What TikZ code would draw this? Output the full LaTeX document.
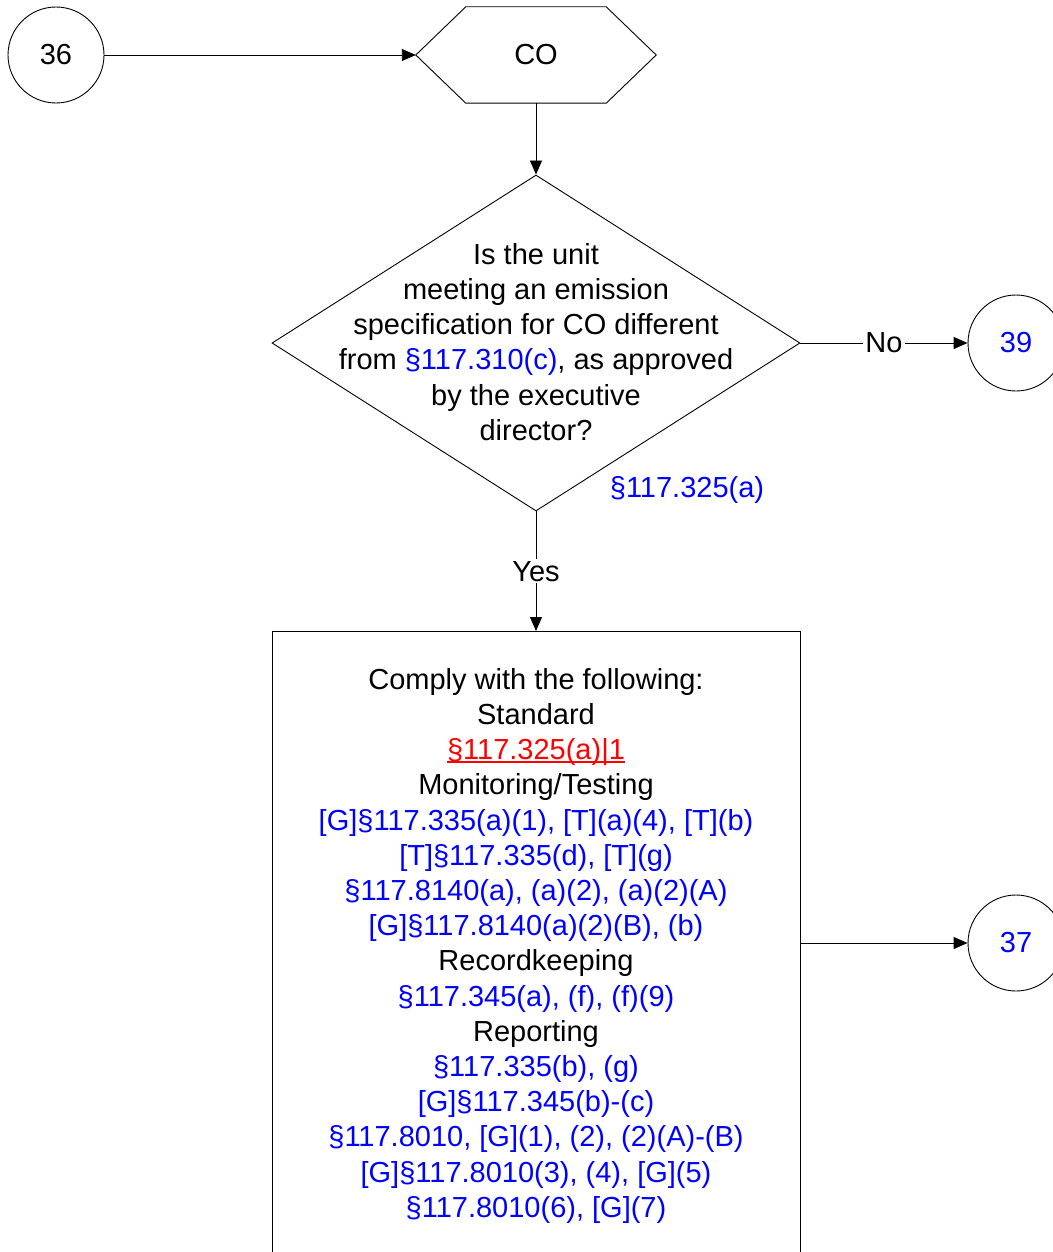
\documentclass[tikz,border=0pt]{standalone}
\usepackage{fontspec}
\setmainfont{Liberation Sans}
\usetikzlibrary{shapes.geometric,arrows.meta}
\definecolor{refblue}{RGB}{0,0,255}
\definecolor{refred}{RGB}{255,0,0}
\newcommand\myul[1]{\setbox0\hbox{#1}\rlap{\color{refred}\rule[-3pt]{\wd0}{1.4pt}}\box0}
\begin{document}
\begin{tikzpicture}[x=1pt,y=-1pt]
\tikzset{
  conn/.style={draw=black, line width=0.9pt, -{Triangle[length=14pt,width=12pt]}},
  plain/.style={draw=black, line width=0.9pt},
  lbl/.style={font=\fontsize{29}{35.2}\selectfont, align=center, inner sep=0pt},
  conncircle/.style={circle, draw, line width=0.9pt, minimum size=96pt, inner sep=0pt, font=\fontsize{29}{35}\selectfont},
}
\useasboundingbox (0,0) rectangle (1052,1252);
\fill[white] (0,0) rectangle (1052,1252);

\node[conncircle] (c36) at (56,55) {36};
\node[lbl, minimum width=240pt, minimum height=96pt] (hex) at (536,55) {CO};
\draw[plain] (hex.west) -- ([xshift=50pt]hex.north west) -- ([xshift=-50pt]hex.north east)
  -- (hex.east) -- ([xshift=-50pt]hex.south east) -- ([xshift=50pt]hex.south west) -- cycle;

\node[diamond, draw, line width=0.9pt, minimum width=528pt, minimum height=336pt, inner sep=0pt] (dia) at (536,343) {};
\node[lbl] (dtext) at (536,342) {Is the unit\\meeting an emission\\specification for CO different\\from \textcolor{refblue}{§117.310(c)}, as approved\\by the executive\\director?};
\node[lbl, text=refblue] (dref) at (687,490) {§117.325(a)};

\node[conncircle, text=refblue] (c39) at (1016,343) {39};
\node[conncircle, text=refblue] (c37) at (1016,943) {37};

\node[draw, line width=0.9pt, minimum width=528pt, minimum height=660pt, anchor=north, inner sep=0pt] (box) at (536,631) {};
\node[lbl, anchor=north] (btext) at (536,668) {Comply with the following:\\
Standard\\
\myul{\textcolor{refred}{§117.325(a)|1}}\\
Monitoring/Testing\\
\textcolor{refblue}{[G]§117.335(a)(1), [T](a)(4), [T](b)}\\
\textcolor{refblue}{[T]§117.335(d), [T](g)}\\
\textcolor{refblue}{§117.8140(a), (a)(2), (a)(2)(A)}\\
\textcolor{refblue}{[G]§117.8140(a)(2)(B), (b)}\\
Recordkeeping\\
\textcolor{refblue}{§117.345(a), (f), (f)(9)}\\
Reporting\\
\textcolor{refblue}{§117.335(b), (g)}\\
\textcolor{refblue}{[G]§117.345(b)-(c)}\\
\textcolor{refblue}{§117.8010, [G](1), (2), (2)(A)-(B)}\\
\textcolor{refblue}{[G]§117.8010(3), (4), [G](5)}\\
\textcolor{refblue}{§117.8010(6), [G](7)}};

\draw[conn] (c36) -- (hex.west);
\draw[conn] (hex.south) -- (dia.north);
\draw[conn] (dia.east) -- node[lbl, fill=white, inner sep=2pt] (no) {No} (c39.west);
\draw[conn] (dia.south) -- node[lbl, fill=white, inner sep=2pt] (yes) {Yes} (box.north);
\draw[conn] (box.east |- c37.west) -- (c37.west);
\end{tikzpicture}
\end{document}
